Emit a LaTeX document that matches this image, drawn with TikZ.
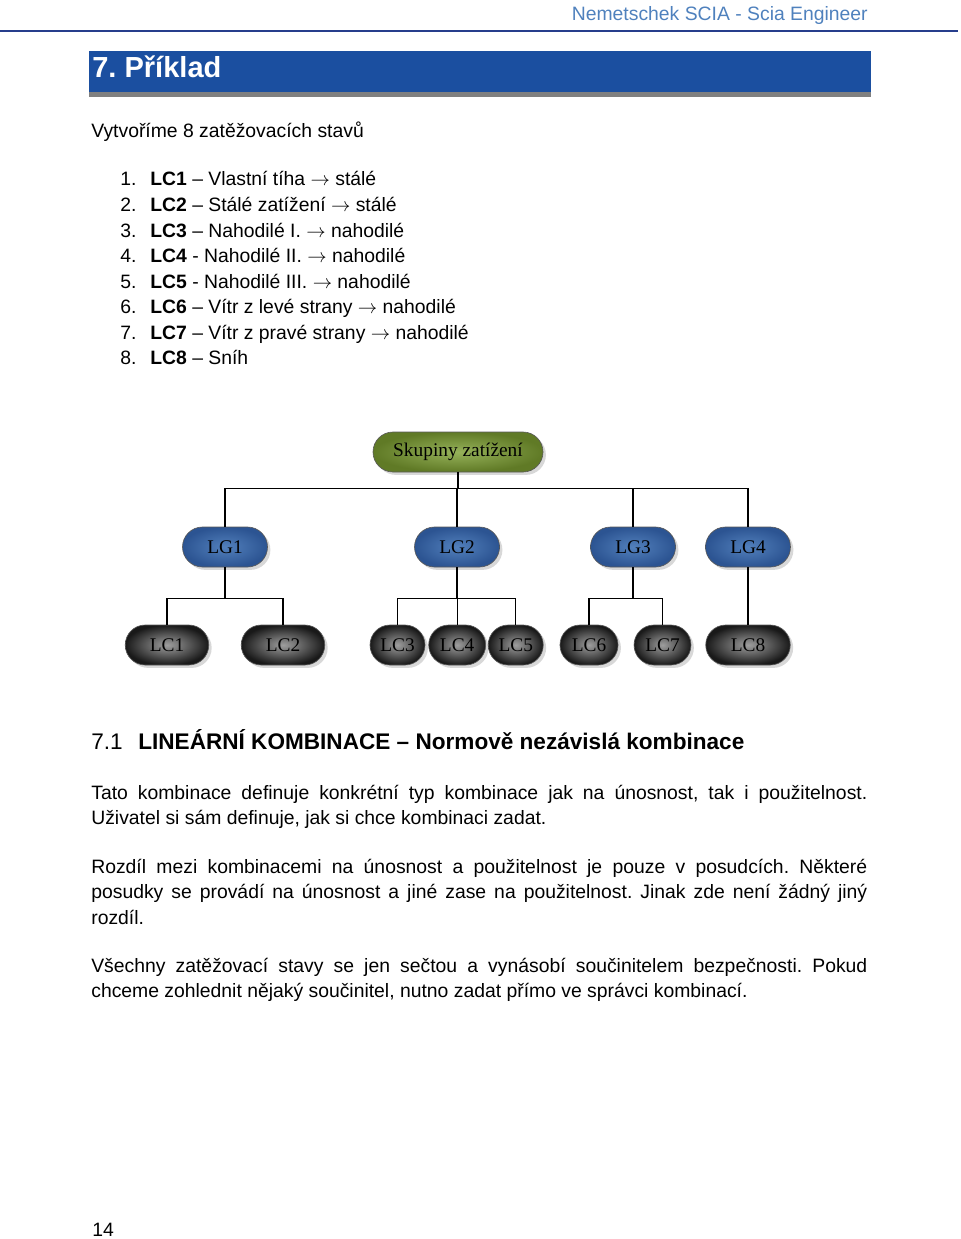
\documentclass[tikz,border=0pt]{standalone}
\usepackage{fontspec}
\setmainfont{Liberation Sans}
\newfontfamily\boxfont{Liberation Serif}
\usetikzlibrary{positioning,shapes.misc,shadows}
\frenchspacing

\definecolor{headblue}{RGB}{79,129,189}
\definecolor{ruleblue}{RGB}{38,62,140}
\definecolor{barblue}{RGB}{27,79,160}
\definecolor{bargray}{RGB}{128,128,128}

\begin{document}
\begin{tikzpicture}[x=0.62pt,y=-0.62pt,font=\fontsize{12}{16.1}\selectfont,
    busline/.style={to path={(\tikztostart.south) -- ++(0,#1) -| (\tikztotarget.north)}}]
    % Box styles
    \tikzstyle{pill}=[rounded rectangle, draw=black!65, line width=0.4pt, inner sep=0pt,
        minimum height=24.8pt, font=\boxfont\fontsize{12}{14}\selectfont,
        drop shadow={shadow xshift=1.8pt,shadow yshift=-1.8pt,fill=black!30}]
    \tikzstyle{rootbox}=[pill, shading=radial, inner color={rgb,255:red,150;green,178;blue,90}, outer color={rgb,255:red,96;green,122;blue,38}]
    \tikzstyle{lgbox}=[pill, minimum width=52.7pt, shading=radial, inner color={rgb,255:red,82;green,128;blue,188}, outer color={rgb,255:red,44;green,84;blue,146}]
    \tikzstyle{lcbox}=[pill, shading=radial, inner color=black!38, outer color=black!90, text=black]
    \tikzstyle{line}=[anchor=base west, inner sep=0pt]

    \useasboundingbox (0,0) rectangle (960,1239);

    % Page head
    \node[anchor=base east, inner sep=0pt, text=headblue] (head) at (868,21) {Nemetschek SCIA - Scia Engineer};
    \draw[ruleblue, line width=1pt] (0,31) -- (958,31);
    \fill[barblue] (89,51) rectangle (871,92);
    \fill[bargray] (89,92) rectangle (871,97);
    \node[line, text=white, font=\bfseries\fontsize{18}{22}\selectfont] (title) at (92,78) {7. Příklad};

    % Load cases
    \node[line] (intro) at (91,138) {Vytvoříme 8 zatěžovacích stavů};
    \foreach \n/\txt in {1/{\textbf{LC1} – Vlastní tíha $\rightarrow$ stálé},
                         2/{\textbf{LC2} – Stálé zatížení $\rightarrow$ stálé},
                         3/{\textbf{LC3} – Nahodilé I. $\rightarrow$ nahodilé},
                         4/{\textbf{LC4} - Nahodilé II. $\rightarrow$ nahodilé},
                         5/{\textbf{LC5} - Nahodilé III. $\rightarrow$ nahodilé},
                         6/{\textbf{LC6} – Vítr z levé strany $\rightarrow$ nahodilé},
                         7/{\textbf{LC7} – Vítr z pravé strany $\rightarrow$ nahodilé},
                         8/{\textbf{LC8} – Sníh}}
    {
        \node[line] (num\n) at (120,{186+(\n-1)*25.57}) {\n.};
        \node[line] (item\n) at (150,{186+(\n-1)*25.57}) {\txt};
    }

    % Nodes, positions, and labels
    \node[rootbox, minimum width=105.4pt] (root) at (458,452) {Skupiny zatížení};

    \node[lgbox] (LG1) at (225,547) {LG1};
    \node[lgbox] (LG2) at (457,547) {LG2};
    \node[lgbox] (LG3) at (633,547) {LG3};
    \node[lgbox] (LG4) at (748,547) {LG4};

    \node[lcbox, minimum width=51.8pt] (LC1) at (167,645) {LC1};
    \node[lcbox, minimum width=51.8pt] (LC2) at (283,645) {LC2};
    \node[lcbox, minimum width=34.1pt] (LC3) at (397.5,645) {LC3};
    \node[lcbox, minimum width=35.3pt] (LC4) [right=1.9pt of LC3] {LC4};
    \node[lcbox, minimum width=34.1pt] (LC5) [right=1.2pt of LC4] {LC5};
    \node[lcbox, minimum width=36pt]   (LC6) at (589,645) {LC6};
    \node[lcbox, minimum width=35.3pt] (LC7) at (662.5,645) {LC7};
    \node[lcbox, minimum width=52.4pt] (LC8) at (748,645) {LC8};

    % Connectors
    \path[line width=0.8pt]
    (root) edge [busline=16] (LG1)
           edge [busline=16] (LG2)
           edge [busline=16] (LG3)
           edge [busline=16] (LG4)
    (LG1)  edge [busline=31] (LC1)
           edge [busline=31] (LC2)
    (LG2)  edge [busline=31] (LC3)
           edge [busline=31] (LC4)
           edge [busline=31] (LC5)
    (LG3)  edge [busline=31] (LC6)
           edge [busline=31] (LC7)
    (LG4)  edge [busline=31] (LC8);

    % Section 7.1
    \node[line, font=\fontsize{14}{17}\selectfont] (secno) at (91,749) {7.1};
    \node[line, font=\bfseries\fontsize{14}{17}\selectfont] (sec) at (138,749) {LINEÁRNÍ KOMBINACE – Normově nezávislá kombinace};

    \node[line, text width=481.1pt, align=justify] (par1) at (91,799)
        {Tato kombinace definuje konkrétní typ kombinace jak na únosnost, tak i použitelnost.\linebreak
         Uživatel si sám definuje, jak si chce kombinaci zadat.};
    \node[line, text width=481.1pt, align=justify] (par2) at (91,873)
        {Rozdíl mezi kombinacemi na únosnost a použitelnost je pouze v~posudcích. Některé\linebreak
         posudky se provádí na únosnost a jiné zase na použitelnost. Jinak zde není žádný jiný\linebreak
         rozdíl.};
    \node[line, text width=481.1pt, align=justify] (par3) at (91,972)
        {Všechny zatěžovací stavy se jen sečtou a vynásobí součinitelem bezpečnosti. Pokud\linebreak
         chceme zohlednit nějaký součinitel, nutno zadat přímo ve správci kombinací.};

    \node[line] (pageno) at (92,1236) {14};
\end{tikzpicture}
\end{document}
